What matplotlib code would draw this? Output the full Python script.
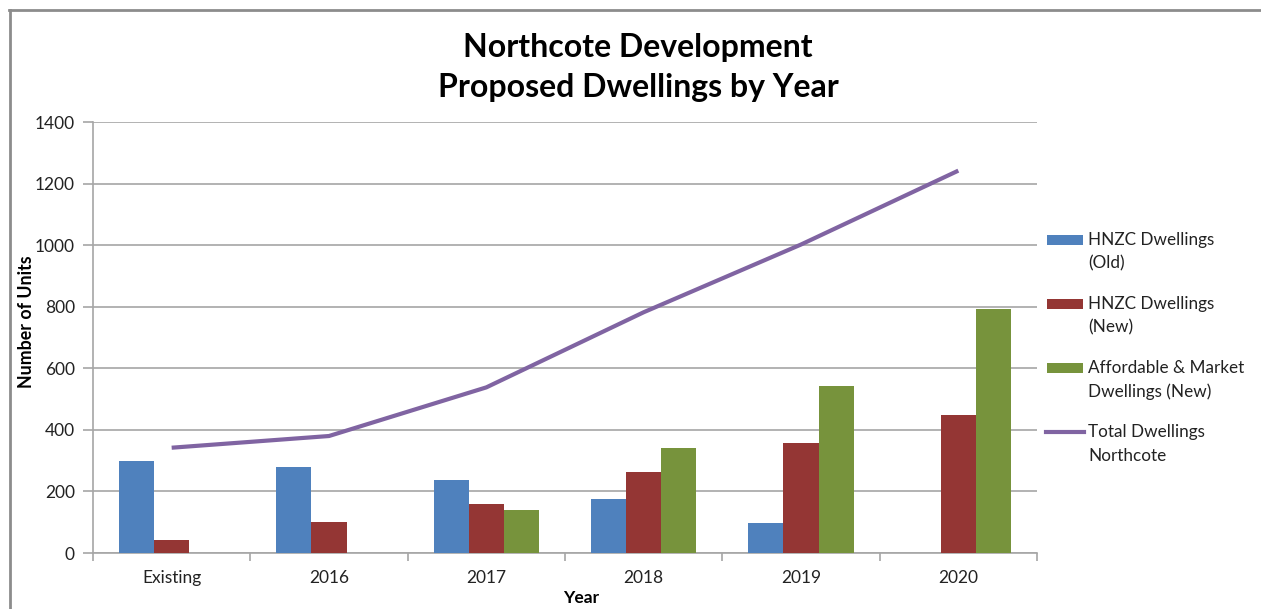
import matplotlib
matplotlib.use("Agg")
import matplotlib.pyplot as plt
import numpy as np
from matplotlib.lines import Line2D
from matplotlib.patches import Rectangle

categories = ["Existing", "2016", "2017", "2018", "2019", "2020"]
hnzc_old = [300, 278, 236, 175, 98, 0]
hnzc_new = [42, 100, 160, 262, 358, 447]
affordable = [0, 0, 140, 340, 542, 792]
total = [342, 380, 538, 782, 1002, 1242]
series_names = ["HNZC Dwellings\n(Old)", "HNZC Dwellings\n(New)",
                "Affordable & Market\nDwellings (New)", "Total Dwellings\nNorthcote"]
yticks = [0, 200, 400, 600, 800, 1000, 1200, 1400]

c_blue = "#4F81BD"
c_red = "#943634"
c_green = "#77933C"
c_purple = "#8064A2"
grid_c = "#A6A6A6"

plt.rcParams['font.family'] = ['Lato', 'DejaVu Sans']

W, H = 1261, 609
fig = plt.figure(figsize=(W / 100, H / 100), dpi=100)
ax = fig.add_axes([93 / W, 1 - 553 / H, (1037 - 93) / W, (553 - 122) / H])

x = np.arange(len(categories))
bw = 0.223
ax.bar(x - bw, hnzc_old, bw, color=c_blue, zorder=3)
ax.bar(x, hnzc_new, bw, color=c_red, zorder=3)
ax.bar(x + bw, affordable, bw, color=c_green, zorder=3)
ax.plot(x, total, color=c_purple, lw=3, zorder=4, solid_capstyle='butt')

ax.set_xlim(-0.5, len(categories) - 0.5)
ax.set_ylim(0, 1400)
ax.set_yticks(yticks)
ax.set_yticklabels([str(v) for v in yticks], fontsize=12.5, color="#222222")
ax.yaxis.grid(True, color=grid_c, lw=1.2, zorder=0)
ax.set_axisbelow(True)

ax.set_xticks(x)
ax.set_xticklabels(categories, fontsize=12.5, color="#222222")
ax.set_xticks(np.arange(-0.5, len(categories) + 0.5, 1.0), minor=True)
ax.tick_params(axis='x', which='major', length=0, pad=12)
ax.tick_params(axis='x', which='minor', length=6, color=grid_c, width=1.2)
ax.tick_params(axis='y', length=7, color=grid_c, width=1.2, pad=6)

for s in ["top", "right"]:
    ax.spines[s].set_visible(False)
for s in ["left", "bottom"]:
    ax.spines[s].set_color(grid_c)
    ax.spines[s].set_linewidth(1.2)

fig.text(27 / W, 1 - 322 / H, "Number of Units", rotation=90, ha='center', va='center',
         fontsize=12.8, fontweight='bold')
fig.text(581 / W, 1 - 598 / H, "Year", ha='center', va='center',
         fontsize=12.5, fontweight='bold')

fig.text(638 / W, 1 - 47 / H, "Northcote Development", ha='center', va='center',
         fontsize=23, fontweight='bold')
fig.text(638 / W, 1 - 88 / H, "Proposed Dwellings by Year", ha='center', va='center',
         fontsize=23, fontweight='bold')

# legend drawn manually to match the reference layout
leg_y = [240, 304, 368, 432]
leg_colors = [c_blue, c_red, c_green]
for i, (name, yy) in enumerate(zip(series_names, leg_y)):
    if i < 3:
        fig.add_artist(Rectangle((1047 / W, 1 - (yy + 5) / H), 36 / W, 10 / H,
                                 facecolor=leg_colors[i], edgecolor='none',
                                 transform=fig.transFigure))
    else:
        fig.add_artist(Line2D([1046 / W, 1084 / W], [1 - yy / H, 1 - yy / H],
                              color=c_purple, lw=3))
    fig.text(1088 / W, 1 - (yy - 8) / H, name, ha='left', va='top',
             fontsize=12.3, linespacing=1.58, color="#222222")

# outer chart frame (partially visible)
fig.add_artist(Line2D([9 / W, 1.0], [1 - 9.5 / H, 1 - 9.5 / H], color="#8C8C8C", lw=2))
fig.add_artist(Line2D([9.5 / W, 9.5 / W], [0, 1 - 9.5 / H], color="#8C8C8C", lw=2))

fig.savefig("out.png", dpi=100)
